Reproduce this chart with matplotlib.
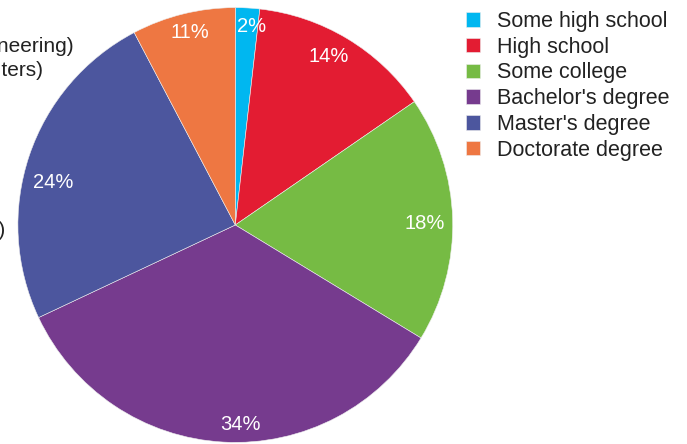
import matplotlib.pyplot as plt

plt.rcParams['font.family'] = ['Liberation Sans', 'DejaVu Sans']

# 数据
categories = ['Some high school', 'High school', 'Some college',
              "Bachelor's degree", "Master's degree", 'Doctorate degree']
shares = [1.8, 13.6, 18.3, 34.3, 24.3, 7.7]
pct_labels = ['2%', '14%', '18%', '34%', '24%', '11%']
colors = ['#00b7f0', '#e31c32', '#76bb44', '#763b8e', '#4c569e', '#ee7742']

# 左侧被截断的文字（来自另一张图）
side_texts = ['(Software engineering)', '(Computers)', '(Other)']

W, H = 687, 444
cx, cy, r = 235.3, 225.0, 217.4  # 像素坐标，cy 从顶部算

# 百分比标签位置（像素）
label_px = [(252, 27), (329, 56), (425, 223), (240, 424), (53, 182), (190, 33)]

fig = plt.figure(figsize=(W / 100, H / 100), dpi=100)
fig.patch.set_facecolor('white')
ax = fig.add_axes([0, 0, 1, 1])

it = iter(pct_labels)
wedges, _, autotexts = ax.pie(shares, colors=colors, startangle=90, counterclock=False,
                              radius=1, autopct=lambda p: next(it), pctdistance=0.89,
                              wedgeprops=dict(linewidth=0.4, edgecolor='#eeeeee'),
                              textprops=dict(color='white', fontsize=14.5))

ax.set_xlim(-cx / r, (W - cx) / r)
ax.set_ylim(-(H - cy) / r, cy / r)
ax.set_aspect('auto')
ax.axis('off')

# 标签微调到原图位置
for t, (px, py) in zip(autotexts, label_px):
    t.set_position(((px - cx) / r, (cy - py) / r))

# 截断文字
for txt, (x, y) in zip(side_texts, [(74, 47), (44, 70), (6, 230)]):
    fig.text(x / W, 1 - y / H, txt, ha='right', va='center', fontsize=15, color='#222222')

leg = fig.legend(wedges, categories, loc='upper left',
                 bbox_to_anchor=(466 / W, 1 - 11 / H), frameon=False,
                 fontsize=15.5, handlelength=0.66, handleheight=0.66,
                 handletextpad=0.78, labelspacing=0.22, borderpad=0, borderaxespad=0)
for t in leg.get_texts():
    t.set_color('#222222')

fig.savefig('out.png', dpi=100, facecolor='white')
